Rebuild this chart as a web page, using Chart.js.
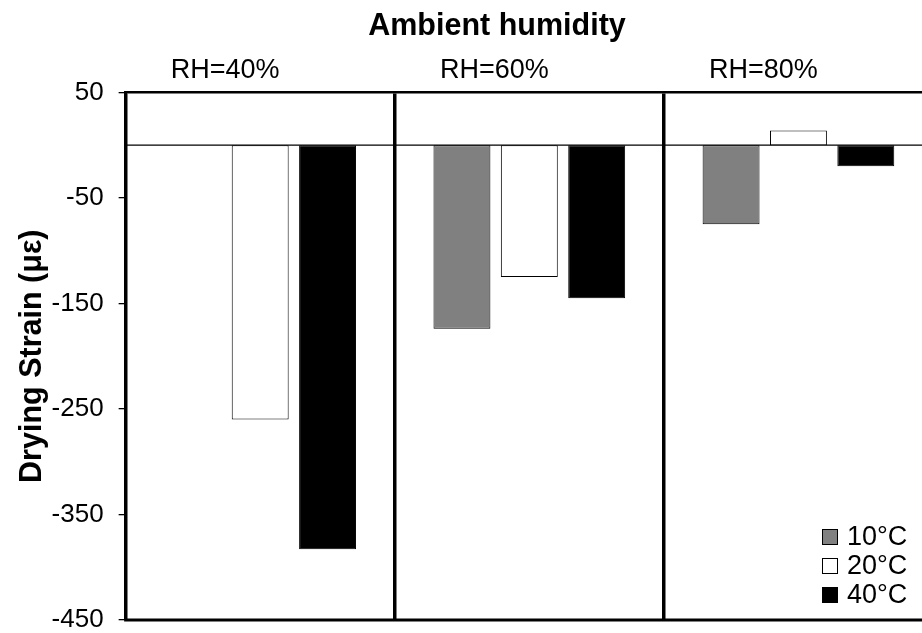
<!DOCTYPE html>
<html>
<head>
<meta charset="utf-8">
<title>Drying strain vs ambient humidity</title>
<script src="https://cdn.jsdelivr.net/npm/chart.js@4.4.1/dist/chart.umd.min.js"></script>
<style>
  html, body { margin: 0; padding: 0; background: #fff; overflow: hidden; }
  #wrap { width: 922px; height: 633px; overflow: hidden; }
</style>
</head>
<body>
<div id="wrap"><canvas id="grafico" width="940" height="648"></canvas></div>
<script>
// Datos del gráfico
const categorias = ['RH=40%', 'RH=60%', 'RH=80%'];
const temperaturas = ['10°C', '20°C', '40°C'];
const valores10 = [null, -174, -75];
const valores20 = [-260, -125, 14];
const valores40 = [-383, -145, -20];
const colores = ['#808080', '#ffffff', '#000000'];

const fuente = '"Liberation Sans", Arial, sans-serif';

// Línea del cero, marco inferior, título superior y leyenda dentro del área
const extras = {
    id: 'extras',
    beforeDatasetsDraw(chart) {
        const ctx = chart.ctx;
        const area = chart.chartArea;
        const y0 = chart.scales.y.getPixelForValue(0);
        ctx.save();
        ctx.strokeStyle = '#000';
        ctx.lineWidth = 1.3;
        ctx.beginPath();
        ctx.moveTo(area.left, y0);
        ctx.lineTo(area.right, y0);
        ctx.stroke();
        ctx.lineWidth = 3;
        ctx.beginPath();
        ctx.moveTo(area.left - 1.5, area.bottom);
        ctx.lineTo(area.right, area.bottom);
        ctx.stroke();
        ctx.restore();
    },
    afterDraw(chart) {
        const ctx = chart.ctx;
        const area = chart.chartArea;
        ctx.save();
        ctx.fillStyle = '#000';
        ctx.font = 'bold 30.5px ' + fuente;
        ctx.textAlign = 'center';
        ctx.textBaseline = 'alphabetic';
        ctx.fillText('Ambient humidity', 497, 35);

        // leyenda
        ctx.font = '27px ' + fuente;
        ctx.textAlign = 'left';
        ctx.textBaseline = 'middle';
        chart.data.datasets.forEach(function(ds, i) {
            const cy = area.bottom - 83 + i * 29;
            const bx = area.right - 111;
            ctx.fillStyle = ds.backgroundColor;
            ctx.fillRect(bx, cy - 8, 16, 16);
            ctx.strokeStyle = '#000';
            ctx.lineWidth = 1;
            ctx.strokeRect(bx + 0.5, cy - 7.5, 15, 15);
            ctx.fillStyle = '#000';
            ctx.fillText(ds.label, bx + 25, cy + 1);
        });
        ctx.restore();
    }
};

function initChart() {
    const ctx = document.getElementById('grafico').getContext('2d');
    const series = [valores10, valores20, valores40];
    new Chart(ctx, {
        type: 'bar',
        data: {
            labels: categorias,
            datasets: series.map(function(vals, i) {
                return {
                    label: temperaturas[i],
                    data: vals,
                    backgroundColor: colores[i],
                    borderColor: '#000',
                    borderWidth: 1,
                    borderSkipped: false,
                    categoryPercentage: 0.751,
                    barPercentage: 0.845
                };
            })
        },
        options: {
            responsive: false,
            animation: false,
            layout: { padding: { top: 48, left: 10, right: 7, bottom: 0 } },
            plugins: {
                legend: { display: false },
                tooltip: { enabled: false }
            },
            scales: {
                x: {
                    position: 'top',
                    offset: true,
                    grid: {
                        offset: true,
                        color: '#000',
                        lineWidth: 3.5,
                        drawTicks: false,
                        tickLength: 0
                    },
                    border: { display: true, color: '#000', width: 2.5 },
                    ticks: {
                        color: '#000',
                        font: { family: fuente, size: 27 },
                        padding: 6,
                        labelOffset: -35,
                        maxRotation: 0
                    }
                },
                y: {
                    min: -450,
                    max: 50,
                    grid: {
                        drawOnChartArea: false,
                        drawTicks: true,
                        tickLength: 7,
                        color: '#000',
                        lineWidth: 1.3
                    },
                    border: { display: true, color: '#000', width: 3 },
                    ticks: {
                        stepSize: 100,
                        color: '#000',
                        padding: 15,
                        font: { family: fuente, size: 26, lineHeight: 1.0 }
                    },
                    title: {
                        display: true,
                        text: 'Drying Strain (με)',
                        color: '#000',
                        padding: { top: 4, bottom: -14 },
                        font: { family: fuente, size: 30.5, weight: 'bold' }
                    }
                }
            }
        },
        plugins: [extras]
    });
}

document.addEventListener('DOMContentLoaded', initChart);
</script>
</body>
</html>
